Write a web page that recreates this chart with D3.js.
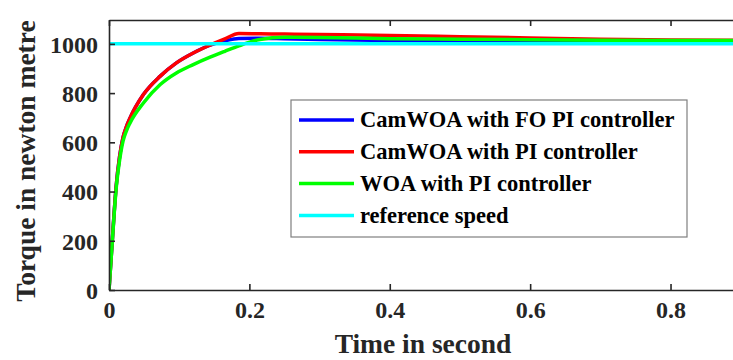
<!DOCTYPE html>
<html>
<head>
<meta charset="utf-8">
<script src="https://cdn.jsdelivr.net/npm/d3@7"></script>
<style>
  body { margin: 0; background: #fff; }
  svg text { font-family: "Liberation Serif", "Times New Roman", serif; font-weight: bold; }
</style>
</head>
<body>
<div id="chart"></div>
<script>
// time samples (s)
const time = [0, 0.005, 0.01, 0.015, 0.02, 0.025, 0.03, 0.049, 0.073, 0.096, 0.12, 0.144, 0.165, 0.185, 0.215, 0.25, 0.3, 0.4, 0.5, 0.6, 0.7, 0.8, 0.9];
// torque values
const camFoPi = [0, 215, 415, 540, 620, 665, 699, 794, 869, 923, 963, 995, 1012, 1022, 1023, 1021, 1018, 1014, 1012, 1010, 1008, 1007, 1006];
const camPi   = [0, 215, 415, 540, 620, 665, 699, 794, 869, 923, 963, 995, 1020, 1042, 1041, 1040, 1038, 1034, 1029, 1024, 1019, 1016, 1015];
const woaPi   = [0, 210, 406, 525, 605, 648, 679, 760, 835, 882, 916, 946, 970, 992, 1018, 1027, 1026, 1021, 1019, 1017, 1015, 1014, 1014];
const refSpeed = [1000, 1000];
const refTime = [0, 0.9];

const yTicks = [0, 200, 400, 600, 800, 1000];
const xTicks = [0, 0.2, 0.4, 0.6, 0.8];

const series = [
  {name: "CamWOA with FO PI controller", color: "#0000ff", t: time, v: camFoPi},
  {name: "CamWOA with PI controller", color: "#ff0000", t: time, v: camPi},
  {name: "WOA with PI controller", color: "#00ff00", t: time, v: woaPi},
  {name: "reference speed", color: "#00ffff", t: refTime, v: refSpeed}
];

const W = 733, H = 360;
const margin = {top: 20, right: 0, bottom: 70, left: 109};
const width = W - margin.left - margin.right;
const height = H - margin.top - margin.bottom;

const svg = d3.select("#chart").append("svg")
  .attr("width", W)
  .attr("height", H);

const chart = svg.append("g")
  .attr("transform", "translate(" + margin.left + "," + margin.top + ")");

const x = d3.scaleLinear().domain([0, 0.889]).range([0, width]);
const y = d3.scaleLinear().domain([0, 1097]).range([height, 0]);

chart.append("clipPath").attr("id", "clip")
  .append("rect").attr("x", 0).attr("y", 0).attr("width", width).attr("height", height);

const line = d3.line()
  .x(d => x(d[0]))
  .y(d => y(d[1]))
  .curve(d3.curveMonotoneX);

const lines = chart.append("g").attr("clip-path", "url(#clip)");
series.forEach(s => {
  lines.append("path")
    .datum(s.t.map((t, i) => [t, s.v[i]]))
    .attr("fill", "none")
    .attr("stroke", s.color)
    .attr("stroke-width", 3.5)
    .attr("stroke-linejoin", "round")
    .attr("d", line);
});

const axisColor = "#262626";

// bottom axis, ticks pointing inward
const xAxis = chart.append("g")
  .attr("transform", "translate(0," + height + ")")
  .call(d3.axisBottom(x).tickValues(xTicks).tickSizeInner(-6).tickSizeOuter(0).tickPadding(11)
    .tickFormat(d => d === 0 ? "0" : d3.format(".1f")(d)));
// top border with ticks
const xTop = chart.append("g")
  .call(d3.axisTop(x).tickValues(xTicks).tickSizeInner(-6).tickSizeOuter(0).tickFormat(""));
const yAxis = chart.append("g")
  .call(d3.axisLeft(y).tickValues(yTicks).tickSizeInner(-6).tickSizeOuter(0).tickPadding(11)
    .tickFormat(d3.format("d")));

[xAxis, xTop, yAxis].forEach(a => {
  a.attr("font-family", null).attr("font-size", null);
  a.select(".domain").attr("stroke", axisColor).attr("stroke-width", 1.6);
  a.selectAll(".tick line").attr("stroke", axisColor).attr("stroke-width", 1.6);
  a.selectAll(".tick text").attr("fill", axisColor).style("font-size", "24px");
});
yAxis.selectAll(".tick text").attr("dy", "0.35em");
xAxis.selectAll(".tick text").attr("dy", "0.71em");

svg.append("text")
  .attr("x", 423).attr("y", 353)
  .attr("text-anchor", "middle")
  .style("font-size", "27.5px")
  .attr("fill", axisColor)
  .text("Time in second");

svg.append("text")
  .attr("transform", "translate(35,161) rotate(-90)")
  .attr("text-anchor", "middle")
  .style("font-size", "27.5px")
  .attr("fill", axisColor)
  .text("Torque in newton metre");

// legend
const legend = svg.append("g").attr("transform", "translate(291,100)");
legend.append("rect")
  .attr("width", 396).attr("height", 137)
  .attr("fill", "#fff")
  .attr("stroke", "#7f7f7f")
  .attr("stroke-width", 1.2);
series.forEach((s, i) => {
  const row = legend.append("g").attr("transform", "translate(0," + (20 + i * 31.8) + ")");
  row.append("line")
    .attr("x1", 8).attr("x2", 63)
    .attr("stroke", s.color).attr("stroke-width", 3.5);
  row.append("text")
    .attr("x", 69).attr("dy", "0.33em")
    .style("font-size", "22.5px")
    .attr("fill", "#000")
    .text(s.name);
});
</script>
</body>
</html>
